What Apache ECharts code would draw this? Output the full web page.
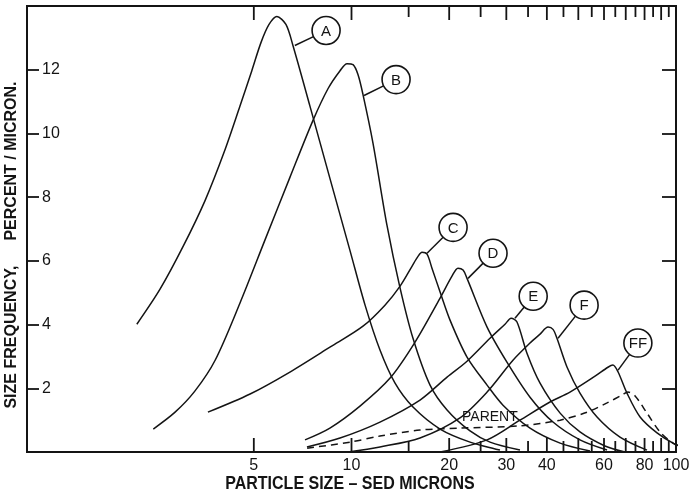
<!DOCTYPE html>
<html><head><meta charset="utf-8">
<script src="https://cdn.jsdelivr.net/npm/echarts@6/dist/echarts.min.js"></script>
<style>html,body{margin:0;padding:0;background:#fff}#c{width:689px;height:496px}</style>
</head><body><div id="c"></div>
<script>
const xTicks = [5,10,15,20,25,30,35,40,45,50,55,60,65,70,75,80,85,90,95,100];
const xTickLabels = [5,10,20,30,40,60,80,100];
const yTickLabels = [2,4,6,8,10,12];

const curveA = [[2.18,4.01],[2.57,5.11],[3.03,6.46],[3.54,7.9],[4.07,9.47],[4.53,10.85],[4.93,11.97],[5.26,12.85],[5.57,13.42],[5.89,13.67],[6.28,13.42],[6.6,12.76],[7.45,10.85],[8.58,8.59],[9.89,6.33],[11.01,4.61],[12.24,3.2],[13.62,2.16],[15.47,1.41],[18.75,0.72],[23.19,0.31],[28.68,0.06]];
const curveB = [[2.45,0.72],[2.86,1.25],[3.29,1.91],[3.8,2.88],[4.53,4.67],[5.41,6.65],[6.46,8.62],[7.61,10.41],[8.47,11.41],[9.22,11.97],[9.69,12.19],[10.11,12.16],[10.47,11.85],[10.85,11.22],[11.65,9.69],[12.86,7.12],[14.1,5.17],[15.47,3.57],[17.46,2.1],[19.7,1.32],[23.19,0.66],[26.72,0.31],[33.05,0.06]];
const curveC = [[3.61,1.25],[4.87,1.82],[6.46,2.51],[8.58,3.29],[10.85,3.95],[12.68,4.61],[14.1,5.2],[15.36,5.83],[16.03,6.14],[16.49,6.27],[17.09,6.21],[17.7,5.77],[18.75,5.02],[20.12,4.14],[22.7,2.98],[26.17,2.1],[29.3,1.47],[35.49,0.75],[43.94,0.28],[54.31,0.03]];
const curveD = [[7.19,0.38],[8.58,0.75],[10.62,1.44],[13.15,2.32],[15.7,3.45],[18.75,4.83],[20.4,5.52],[21.29,5.77],[22.07,5.71],[22.7,5.45],[26.17,3.92],[30.13,2.82],[35.49,1.72],[41.78,0.94],[50.59,0.38],[61.3,0.06]];
const curveE = [[7.29,0.16],[9.22,0.44],[12.24,0.94],[16.26,1.63],[19.7,2.35],[22.7,2.85],[26.72,3.57],[29.72,4.01],[31.04,4.2],[32.36,4.08],[34.73,3.1],[38.11,2.16],[43.94,1.22],[50.59,0.63],[60.4,0.19],[69.6,0.0]];
const curveF = [[9.76,0],[12.24,0.16],[16.26,0.44],[21.59,1.07],[26.17,1.88],[31.45,2.88],[35.49,3.42],[38.11,3.7],[40.34,3.92],[41.78,3.85],[42.97,3.57],[46.17,2.66],[50.59,1.85],[57.1,1.1],[67.2,0.47],[81.4,0.06]];
const curveFF = [[18.75,0],[26.17,0.38],[33.05,1.0],[40.9,1.57],[47.13,1.88],[56.3,2.38],[61.7,2.66],[63.9,2.73],[66.3,2.51],[70.6,1.85],[77.5,1.1],[87.4,0.6],[97.9,0.28],[107,0.12]];
const curveParent = [[7.3,0.12],[9.89,0.31],[12.24,0.5],[16.26,0.69],[21.59,0.75],[33.05,0.82],[43.94,1.0],[53.18,1.25],[61.3,1.54],[68.2,1.79],[71.1,1.88],[74.8,1.76],[81.4,1.22],[89.3,0.63],[97.9,0.28],[107,0.09]];

const labelNames = ['A','B','C','D','E','F','FF'];
const labelAt = [[8.35,13.23],[13.72,11.69],[20.56,7.05],[27.3,6.24],[36.3,4.89],[52.1,4.61],[76.3,3.42]];
const labelTo = [[6.69,12.76],[10.93,11.19],[17.09,6.24],[22.86,5.45],[31.9,4.2],[43.3,3.57],[66.3,2.57]];
const parentName = 'PARENT';
const parentAt = [26.7,1.10];

const INK = '#141414';
const FONT = 'Liberation Sans, Arial, sans-serif';

function lineSeries(data, dashed) {
  return {
    type: 'line', data: data, showSymbol: false, smooth: 0.3, clip: false, silent: true,
    lineStyle: { color: INK, width: 1.5, type: dashed ? [7, 5] : 'solid' }
  };
}

const chart = echarts.init(document.getElementById('c'), null, { renderer: 'canvas' });
chart.setOption({
  animation: false,
  backgroundColor: '#fff',
  grid: { left: 27, right: 13, top: 6, bottom: 44, show: true, borderColor: INK, borderWidth: 2, backgroundColor: 'transparent' },
  xAxis: { type: 'log', logBase: 10, min: 1, max: 100, axisLine: { show: false }, axisTick: { show: false }, axisLabel: { show: false }, splitLine: { show: false } },
  yAxis: [
    { type: 'value', min: 0, max: 14, interval: 2, position: 'left', axisLine: { show: false }, splitLine: { show: false },
      axisTick: { inside: true, length: 12, lineStyle: { color: INK, width: 1.8 } },
      axisLabel: { inside: true, margin: 15, color: INK, fontSize: 16, fontFamily: FONT,
        formatter: v => yTickLabels.indexOf(v) >= 0 ? String(v) : '' } },
    { type: 'value', min: 0, max: 14, interval: 2, position: 'right', axisLine: { show: false }, splitLine: { show: false },
      axisTick: { inside: true, length: 14, lineStyle: { color: INK, width: 1.8 } },
      axisLabel: { show: false } }
  ],
  graphic: [
    { type: 'text', x: 12, y: 161, rotation: Math.PI / 2, style: { text: 'PERCENT / MICRON.', align: 'center', verticalAlign: 'middle', font: 'bold 16px ' + FONT, fill: INK } },
    { type: 'text', x: 12, y: 337, rotation: Math.PI / 2, style: { text: 'SIZE FREQUENCY,', align: 'center', verticalAlign: 'middle', font: 'bold 16px ' + FONT, fill: INK } },
    { type: 'text', x: 350, y: 484, scaleY: 1.2, style: { text: 'PARTICLE SIZE \u2013 SED MICRONS', align: 'center', verticalAlign: 'middle', font: 'bold 16px ' + FONT, fill: INK } }
  ],
  series: [
    lineSeries(curveA), lineSeries(curveB), lineSeries(curveC), lineSeries(curveD),
    lineSeries(curveE), lineSeries(curveF), lineSeries(curveFF), lineSeries(curveParent, true),
    { type: 'custom', clip: false, silent: true, data: xTicks.map(v => [v, 0]),
      renderItem: (params, api) => {
        const v = api.value(0);
        const len = (v % 10 === 0 || v === 5) ? 14 : 11;
        const b = api.coord([v, 0]);
        const t = api.coord([v, 14]);
        return { type: 'group', children: [
          { type: 'line', shape: { x1: b[0], y1: b[1], x2: b[0], y2: b[1] - len }, style: { stroke: INK, lineWidth: 1.8 } },
          { type: 'line', shape: { x1: t[0], y1: t[1], x2: t[0], y2: t[1] + len }, style: { stroke: INK, lineWidth: 1.8 } }
        ] };
      } },
    { type: 'custom', clip: false, silent: true, data: xTickLabels.map(v => [v, 0]),
      renderItem: (params, api) => {
        const v = api.value(0);
        const b = api.coord([v, 0]);
        return { type: 'text', style: { text: String(v), x: b[0], y: b[1] + 14, align: 'center', verticalAlign: 'middle', font: '16px ' + FONT, fill: INK } };
      } },
    { type: 'custom', clip: false, silent: true,
      data: labelNames.map((n, i) => [labelAt[i][0], labelAt[i][1], labelTo[i][0], labelTo[i][1]]),
      renderItem: (params, api) => {
        const c = api.coord([api.value(0), api.value(1)]);
        const e = api.coord([api.value(2), api.value(3)]);
        const r = 14;
        const dx = e[0] - c[0], dy = e[1] - c[1], d = Math.hypot(dx, dy);
        return { type: 'group', children: [
          { type: 'line', shape: { x1: c[0] + dx / d * r, y1: c[1] + dy / d * r, x2: e[0], y2: e[1] }, style: { stroke: INK, lineWidth: 1.5 } },
          { type: 'circle', shape: { cx: c[0], cy: c[1], r: r }, style: { fill: '#fff', stroke: INK, lineWidth: 1.6 } },
          { type: 'text', style: { text: labelNames[params.dataIndex], x: c[0], y: c[1] + 1, align: 'center', verticalAlign: 'middle', font: '15px ' + FONT, fill: INK } }
        ] };
      } },
    { type: 'custom', clip: false, silent: true, data: [parentAt],
      renderItem: (params, api) => {
        const p = api.coord([api.value(0), api.value(1)]);
        return { type: 'text', style: { text: parentName, x: p[0], y: p[1], align: 'center', verticalAlign: 'middle', font: '14px ' + FONT, fill: INK } };
      } }
  ]
});
</script>
</body></html>
